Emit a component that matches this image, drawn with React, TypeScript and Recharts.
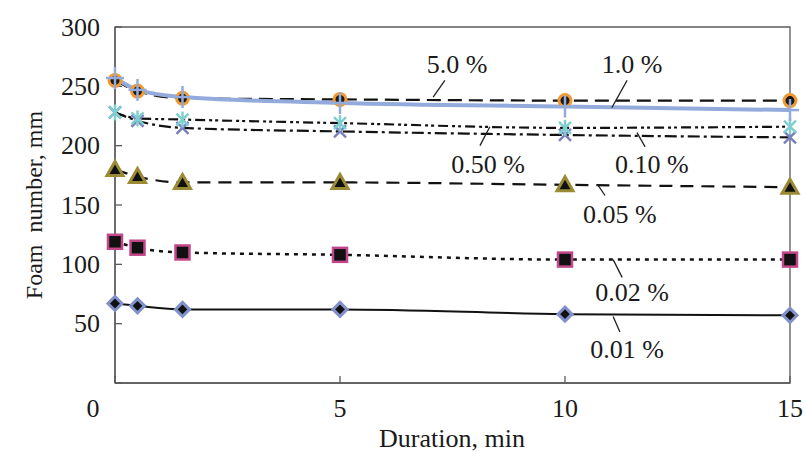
import React from "react";
import {
  LineChart,
  Line,
  XAxis,
  YAxis,
  ReferenceArea,
  ReferenceLine,
  ReferenceDot,
  Label,
} from "recharts";

// duration, min
const minutes = [0, 0.5, 1.5, 5, 10, 15];

// foam number, mm, one array per concentration
const c5_0 = [255, 246, 240, 239, 238, 238];
const c1_0 = [257, 247, 241, 236, 233, 230];
const c0_50 = [228, 223, 222, 219, 215, 216];
const c0_10 = [228, 221, 215, 212, 209, 207];
const c0_05 = [180, 174, 169, 169, 167, 165];
const c0_02 = [119, 114, 110, 108, 104, 104];
const c0_01 = [67, 65, 62, 62, 58, 57];

const xTicks = [0, 5, 10, 15];
const yTicks = [0, 50, 100, 150, 200, 250, 300];

const data = minutes.map((m, i) => ({
  min: m,
  c5_0: c5_0[i],
  c1_0: c1_0[i],
  c0_50: c0_50[i],
  c0_10: c0_10[i],
  c0_05: c0_05[i],
  c0_02: c0_02[i],
  c0_01: c0_01[i],
}));

const FONT = "Liberation Serif";
const FS = 26;
const AXIS = "#5a5a5a";
const INK = "#1a1a1a";

type Shape = "circle" | "plus" | "star" | "x" | "tri" | "square" | "diamond";

const Marker = ({ cx, cy, shape, color }: { cx: number; cy: number; shape: Shape; color: string }) => {
  if (cx == null || cy == null) return null;
  switch (shape) {
    case "circle":
      return <circle cx={cx} cy={cy} r={6} fill="#1a1a1a" stroke={color} strokeWidth={3} />;
    case "plus":
      return (
        <g stroke={color} strokeWidth={2.5}>
          <line x1={cx - 9} y1={cy} x2={cx + 9} y2={cy} />
          <line x1={cx} y1={cy - 11} x2={cx} y2={cy + 11} />
        </g>
      );
    case "star":
      return (
        <g stroke={color} strokeWidth={2.5}>
          <line x1={cx - 6} y1={cy - 6} x2={cx + 6} y2={cy + 6} />
          <line x1={cx - 6} y1={cy + 6} x2={cx + 6} y2={cy - 6} />
          <line x1={cx} y1={cy - 8} x2={cx} y2={cy + 8} />
        </g>
      );
    case "x":
      return (
        <g stroke={color} strokeWidth={2.5}>
          <line x1={cx - 6} y1={cy - 6} x2={cx + 6} y2={cy + 6} />
          <line x1={cx - 6} y1={cy + 6} x2={cx + 6} y2={cy - 6} />
        </g>
      );
    case "tri":
      return (
        <polygon
          points={`${cx},${cy - 8} ${cx + 8},${cy + 6} ${cx - 8},${cy + 6}`}
          fill="#111"
          stroke={color}
          strokeWidth={3}
        />
      );
    case "square":
      return <rect x={cx - 7} y={cy - 7} width={14} height={14} fill="#111" stroke={color} strokeWidth={2.5} />;
    case "diamond":
      return (
        <polygon
          points={`${cx},${cy - 7} ${cx + 7},${cy} ${cx},${cy + 7} ${cx - 7},${cy}`}
          fill="#111"
          stroke={color}
          strokeWidth={3}
        />
      );
  }
  return null;
};

const series: { key: string; stroke: string; width: number; dash?: string; shape: Shape; mark: string }[] = [
  { key: "c0_01", stroke: "#111", width: 2, shape: "diamond", mark: "#8190c8" },
  { key: "c0_02", stroke: "#111", width: 2.5, dash: "4 5", shape: "square", mark: "#c2488b" },
  { key: "c0_05", stroke: "#111", width: 2.2, dash: "13 8", shape: "tri", mark: "#9a8b34" },
  { key: "c0_10", stroke: "#111", width: 2.2, dash: "12 4 3 4", shape: "x", mark: "#7a7fbd" },
  { key: "c0_50", stroke: "#111", width: 2.2, dash: "10 4 3 3 3 4", shape: "star", mark: "#80cfd0" },
  { key: "c5_0", stroke: "#111", width: 2.2, dash: "14 7", shape: "circle", mark: "#f29a32" },
  { key: "c1_0", stroke: "#93abdc", width: 4, shape: "plus", mark: "#93abdc" },
];

// callout labels: text position and leader line, in data units
const notes = [
  { text: "5.0 %", tx: 7.6, ty: 268, from: [7.33, 255], to: [7.07, 241] },
  { text: "1.0 %", tx: 11.49, ty: 268, from: [11.38, 255], to: [11.04, 232] },
  { text: "0.50 %", tx: 8.29, ty: 184, from: [8.33, 216], to: [8.11, 200] },
  { text: "0.10 %", tx: 11.93, ty: 184, from: [11.6, 211], to: [11.78, 199] },
  { text: "0.05 %", tx: 11.22, ty: 142, from: [10.73, 167], to: [10.89, 158] },
  { text: "0.02 %", tx: 11.49, ty: 76, from: [11.07, 104], to: [11.27, 89] },
  { text: "0.01 %", tx: 11.38, ty: 28, from: [11.07, 56], to: [11.22, 43] },
];

const XTick = (p: any) => {
  const v = p.payload.value;
  return (
    <text x={p.x + (v === 0 ? -22 : 0)} y={p.y} textAnchor="middle" dominantBaseline="central"
      fontFamily={FONT} fontSize={FS} fill={INK}>
      {v}
    </text>
  );
};

const YTick = (p: any) => {
  const v = p.payload.value;
  if (v === 0) return <g />;
  return (
    <text x={p.x} y={p.y} textAnchor="end" dominantBaseline="central"
      fontFamily={FONT} fontSize={FS} fill={INK}>
      {v}
    </text>
  );
};

const noteLabel = (text: string) => (props: any) => {
  const vb = props.viewBox || {};
  const x = (vb.x ?? 0) + (vb.width ?? 0) / 2;
  const y = (vb.y ?? 0) + (vb.height ?? 0) / 2;
  return (
    <text x={x} y={y} textAnchor="middle" dominantBaseline="central" fontFamily={FONT} fontSize={FS} fill={INK}>
      {text}
    </text>
  );
};

export default function App() {
  return (
    <div style={{ width: 806, height: 452, background: "#fff" }}>
      <style>{"body{margin:0}"}</style>
      <LineChart width={806} height={452} data={data} margin={{ top: 27, right: 16, bottom: 0, left: 0 }}>
        <ReferenceArea x1={0} x2={15} y1={0} y2={300} fill="none" stroke={AXIS} strokeWidth={1.3} ifOverflow="visible" />
        <XAxis
          type="number"
          dataKey="min"
          domain={[0, 15]}
          ticks={xTicks}
          height={69}
          tickSize={-7}
          tickMargin={32}
          tick={XTick}
          stroke={AXIS}
          strokeWidth={1.3}
          interval={0}
        >
          <Label
            content={(props: any) => (
              <text x={452} y={props.viewBox.y + 55} textAnchor="middle" dominantBaseline="central"
                fontFamily={FONT} fontSize={FS} fill={INK}>
                Duration, min
              </text>
            )}
          />
        </XAxis>
        <YAxis
          type="number"
          domain={[0, 300]}
          ticks={yTicks}
          width={115}
          tickSize={-7}
          tickMargin={22}
          tick={YTick}
          stroke={AXIS}
          strokeWidth={1.3}
          interval={0}
        >
          <Label
            content={(props: any) => {
              const cy = props.viewBox.y + props.viewBox.height / 2;
              return (
                <text x={34} y={cy} transform={`rotate(-90 34 ${cy})`} textAnchor="middle" dominantBaseline="central"
                  fontFamily={FONT} fontSize={24} fill={INK} style={{ whiteSpace: "pre" }}>
                  {"Foam  number, mm"}
                </text>
              );
            }}
          />
        </YAxis>
        {series.map((s) => (
          <Line
            key={s.key}
            dataKey={s.key}
            type="monotone"
            stroke={s.stroke}
            strokeWidth={s.width}
            strokeDasharray={s.dash}
            isAnimationActive={false}
            dot={(p: any) => <Marker key={`${s.key}-${p.index}`} cx={p.cx} cy={p.cy} shape={s.shape} color={s.mark} />}
            activeDot={false}
          />
        ))}
        {notes.map((n) => (
          <ReferenceLine
            key={`l-${n.text}`}
            segment={[{ x: n.from[0], y: n.from[1] }, { x: n.to[0], y: n.to[1] }]}
            stroke="#222"
            strokeWidth={1.3}
          />
        ))}
        {notes.map((n) => (
          <ReferenceDot
            key={`t-${n.text}`}
            x={n.tx}
            y={n.ty}
            r={0}
            stroke="none"
            fill="none"
            label={noteLabel(n.text)}
          />
        ))}
      </LineChart>
    </div>
  );
}
